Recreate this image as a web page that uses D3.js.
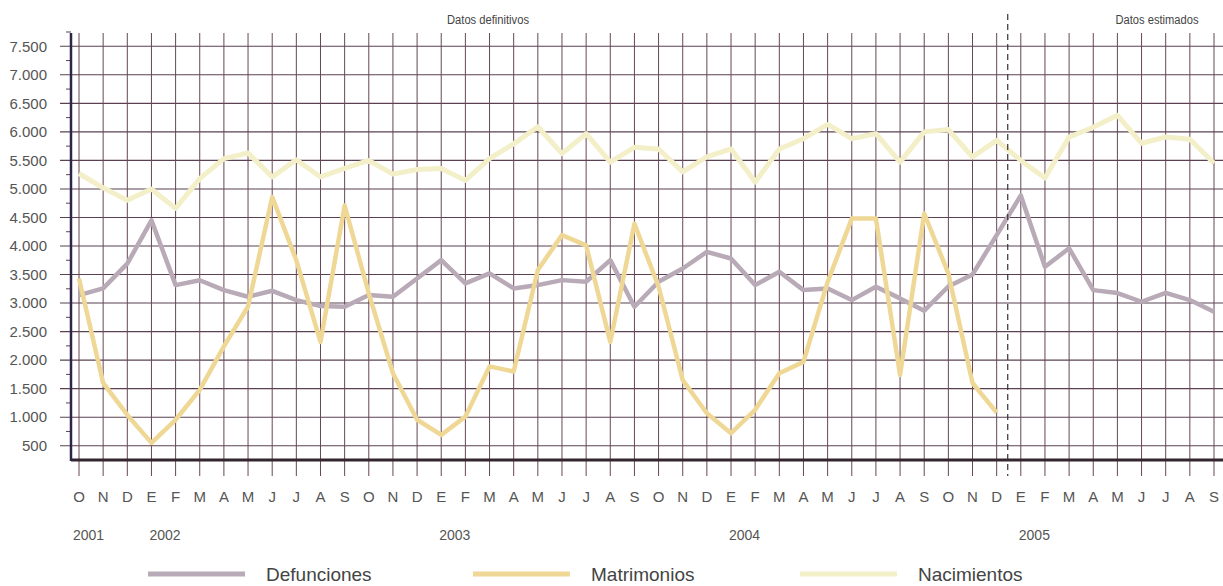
<!DOCTYPE html>
<html>
<head>
<meta charset="utf-8">
<script src="https://cdn.jsdelivr.net/npm/d3@7"></script>
<style>
  body { margin: 0; background: #fff; }
  text { font-family: "Liberation Sans", Arial, Helvetica, sans-serif; }
</style>
</head>
<body>
<div id="chart"></div>
<script>
// month initials, Oct 2001 -> Sep 2005
const months = ["O","N","D",
  "E","F","M","A","M","J","J","A","S","O","N","D",
  "E","F","M","A","M","J","J","A","S","O","N","D",
  "E","F","M","A","M","J","J","A","S","O","N","D",
  "E","F","M","A","M","J","J","A","S"];
const years = ["2001","2002","2003","2004","2005"];
const yearStart = [0, 3, 15, 27, 39];

const defunciones = [3140,3257,3690,4450,3315,3400,3227,3111,3215,3052,2948,2936,
  3140,3111,3431,3752,3344,3519,3257,3315,3402,3373,3752,2936,
  3373,3606,3897,3781,3315,3548,3227,3257,3052,3286,3082,2866,
  3290,3500,4190,4886,3635,3960,3227,3175,3023,3180,3053,2848];
const matrimonios = [3430,1600,1040,550,955,1480,2240,2940,4860,3750,2320,4710,
  3170,1770,955,690,1010,1890,1800,3580,4190,4010,2320,4390,
  3290,1650,1070,720,1130,1770,1970,3370,4480,4480,1740,4570,
  3520,1600,1080];
const nacimientos = [5270,5020,4800,5000,4660,5180,5530,5630,5210,5510,5210,5360,
  5500,5260,5340,5360,5150,5530,5790,6090,5620,5970,5470,5730,
  5700,5300,5560,5700,5120,5700,5880,6130,5880,5970,5470,6000,
  6040,5560,5850,5500,5190,5910,6080,6290,5800,5910,5870,5450];
const yTicks = [500,1000,1500,2000,2500,3000,3500,4000,4500,5000,5500,6000,6500,7000,7500];

const width = 1223, height = 586;
const svg = d3.select("#chart").append("svg")
    .attr("width", width).attr("height", height);

const x = d3.scaleLinear().domain([0, months.length - 1]).range([79, 1214]);
const y = d3.scaleLinear().domain([250, 7750]).range([460, 32]);
const fmt = v => d3.format(",")(v).replace(/,/g, ".");

// horizontal grid
svg.append("g").selectAll("line")
    .data(yTicks).join("line")
    .attr("x1", 60).attr("x2", width)
    .attr("y1", d => y(d)).attr("y2", d => y(d))
    .attr("stroke", "#5a4252").attr("stroke-width", 1.1);

// minor ticks on the y axis
svg.append("g").selectAll("line")
    .data(yTicks.map(d => d + 250)).join("line")
    .attr("x1", 66).attr("x2", 71)
    .attr("y1", d => y(d)).attr("y2", d => y(d))
    .attr("stroke", "#5a4252").attr("stroke-width", 1);

// vertical grid (one per month)
svg.append("g").selectAll("line")
    .data(months).join("line")
    .attr("x1", (d, i) => x(i)).attr("x2", (d, i) => x(i))
    .attr("y1", 33).attr("y2", 476)
    .attr("stroke", "#684656").attr("stroke-width", 1);

// y tick labels
svg.append("g").selectAll("text")
    .data(yTicks).join("text")
    .attr("x", 47).attr("y", d => y(d))
    .attr("dy", "0.35em")
    .attr("text-anchor", "end")
    .attr("font-size", 15)
    .attr("fill", "#555")
    .text(fmt);

// month labels
svg.append("g").selectAll("text")
    .data(months).join("text")
    .attr("x", (d, i) => x(i)).attr("y", 502)
    .attr("text-anchor", "middle")
    .attr("font-size", 15)
    .attr("fill", "#555")
    .text(d => d);

// year labels
svg.append("g").selectAll("text")
    .data(years).join("text")
    .attr("x", (d, i) => x(yearStart[i]) - (i == 0 ? 6 : 2)).attr("y", 540)
    .attr("font-size", 14)
    .attr("fill", "#555")
    .text(d => d);

// series lines
const line = d3.line()
    .defined(d => d != null)
    .x((d, i) => x(i))
    .y(d => y(d));

const series = [
  { name: "Nacimientos", values: nacimientos, color: "#f3efc9", w: 5 },
  { name: "Defunciones", values: defunciones, color: "#b8aab6", w: 4.5 },
  { name: "Matrimonios", values: matrimonios, color: "#efd896", w: 4.5 }
];
svg.append("g").selectAll("path")
    .data(series).join("path")
    .attr("d", d => line(d.values))
    .attr("fill", "none")
    .attr("stroke", d => d.color)
    .attr("stroke-width", d => d.w)
    .attr("stroke-linejoin", "round");

// axes lines
svg.append("line")
    .attr("x1", 71).attr("x2", width)
    .attr("y1", 460).attr("y2", 460)
    .attr("stroke", "#33262f").attr("stroke-width", 3);
svg.append("line")
    .attr("x1", 71).attr("x2", 71)
    .attr("y1", 33).attr("y2", 461)
    .attr("stroke", "#2c2748").attr("stroke-width", 2.5);

// divider between definitive and estimated data
const splitX = (x(38) + x(39)) / 2 - 1;
svg.append("line")
    .attr("x1", splitX).attr("x2", splitX)
    .attr("y1", 14).attr("y2", 476)
    .attr("stroke", "#333").attr("stroke-width", 1.2)
    .attr("stroke-dasharray", "6,4");

svg.append("text")
    .attr("x", 488).attr("y", 24)
    .attr("text-anchor", "middle")
    .attr("font-size", 12).attr("fill", "#444")
    .attr("textLength", 82).attr("lengthAdjust", "spacingAndGlyphs")
    .text("Datos definitivos");
svg.append("text")
    .attr("x", 1157).attr("y", 24)
    .attr("text-anchor", "middle")
    .attr("font-size", 12).attr("fill", "#444")
    .attr("textLength", 83).attr("lengthAdjust", "spacingAndGlyphs")
    .text("Datos estimados");

// legend
const legendX = [148, 473, 800];
const legendItems = [series[1], series[2], series[0]];
const lg = svg.append("g").selectAll("g")
    .data(legendItems).join("g")
    .attr("transform", (d, i) => `translate(${legendX[i]},574)`);
lg.append("line")
    .attr("x1", 0).attr("x2", 97)
    .attr("stroke", d => d.color).attr("stroke-width", 5);
lg.append("text")
    .attr("x", 118).attr("y", 7)
    .attr("font-size", 19).attr("fill", "#444")
    .text(d => d.name);
</script>
</body>
</html>
